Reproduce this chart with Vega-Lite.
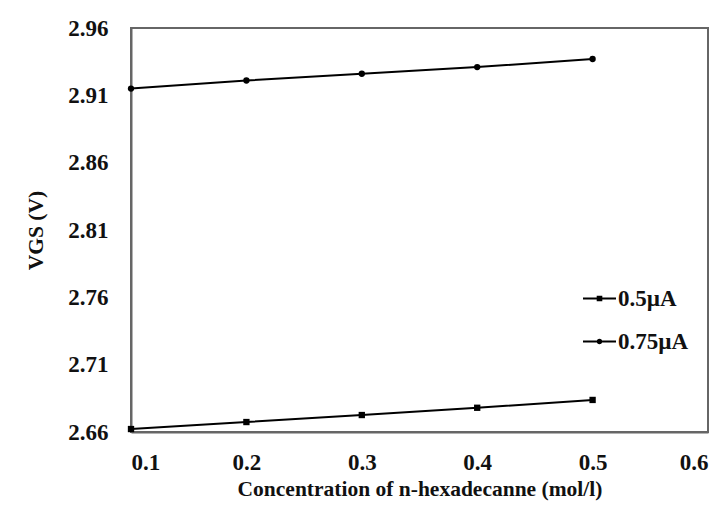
{
  "$schema": "https://vega.github.io/schema/vega-lite/v6.json",
  "autosize": {"type": "none"},
  "width": 577,
  "height": 404,
  "padding": {"left": 131, "top": 28, "right": 20, "bottom": 75},
  "background": "white",
  "config": {
    "font": "Liberation Serif",
    "view": {"stroke": "#666666", "strokeWidth": 2},
    "axis": {
      "labelFont": "Liberation Serif",
      "labelFontWeight": "bold",
      "labelFontSize": 23,
      "labelColor": "#111111",
      "titleFont": "Liberation Serif",
      "titleFontWeight": "bold",
      "titleFontSize": 21.5,
      "titleColor": "#111111",
      "grid": false,
      "ticks": false,
      "domainColor": "#666666",
      "domainWidth": 2
    }
  },
  "data": {
    "values": [
      {"x": 0.1, "v": 2.6622, "series": "0.5µA"},
      {"x": 0.2, "v": 2.6674, "series": "0.5µA"},
      {"x": 0.3, "v": 2.6726, "series": "0.5µA"},
      {"x": 0.4, "v": 2.678, "series": "0.5µA"},
      {"x": 0.5, "v": 2.6838, "series": "0.5µA"},
      {"x": 0.1, "v": 2.915, "series": "0.75µA"},
      {"x": 0.2, "v": 2.921, "series": "0.75µA"},
      {"x": 0.3, "v": 2.926, "series": "0.75µA"},
      {"x": 0.4, "v": 2.931, "series": "0.75µA"},
      {"x": 0.5, "v": 2.937, "series": "0.75µA"}
    ]
  },
  "encoding": {
    "x": {
      "field": "x", "type": "quantitative",
      "scale": {"domain": [0.1, 0.6], "nice": false, "zero": false},
      "axis": {"values": [0.1, 0.2, 0.3, 0.4, 0.5, 0.6], "format": ".1f", "labelPadding": 19, "title": "Concentration  of n-hexadecanne (mol/l)", "titlePadding": 4}
    },
    "y": {
      "field": "v", "type": "quantitative",
      "scale": {"domain": [2.66, 2.96], "nice": false, "zero": false},
      "axis": {"values": [2.66, 2.71, 2.76, 2.81, 2.86, 2.91, 2.96], "format": ".2f", "labelPadding": 23, "title": "VGS (V)", "titlePadding": 20}
    }
  },
  "layer": [
    {
      "mark": {"type": "line", "color": "black", "strokeWidth": 2},
      "encoding": {"detail": {"field": "series"}}
    },
    {
      "mark": {"type": "point", "filled": true, "opacity": 1, "color": "black", "size": 40},
      "encoding": {
        "shape": {"field": "series", "type": "nominal", "scale": {"domain": ["0.5µA", "0.75µA"], "range": ["square", "circle"]}, "legend": null}
      }
    },
    {
      "mark": {"type": "point", "filled": true, "color": "black", "size": 0},
      "encoding": {
        "shape": {"field": "series", "type": "nominal",
          "scale": {"domain": ["0.5µA", "0.75µA"], "range": [
            "M -1 -0.06 H -0.17 V 0.06 H -1 Z M 0.17 -0.06 H 1 V 0.06 H 0.17 Z M -0.17 -0.17 H 0.17 V 0.17 H -0.17 Z",
            "M -1 -0.06 H -0.15 V 0.06 H -1 Z M 0.15 -0.06 H 1 V 0.06 H 0.15 Z M -0.17 0 A 0.17 0.17 0 1 1 0.17 0 A 0.17 0.17 0 1 1 -0.17 0 Z"
          ]},
          "legend": {
            "title": null,
            "orient": "none",
            "legendX": 452,
            "legendY": 254,
            "symbolSize": 1089,
            "symbolOpacity": 1,
            "symbolStrokeWidth": 0,
            "symbolFillColor": "black",
            "labelFont": "Liberation Serif",
            "labelFontWeight": "bold",
            "labelFontSize": 23,
            "labelColor": "#111111",
            "rowPadding": 14,
            "labelOffset": 2
          }
        }
      }
    }
  ],
  "resolve": {"scale": {"shape": "independent"}, "legend": {"shape": "independent"}}
}
